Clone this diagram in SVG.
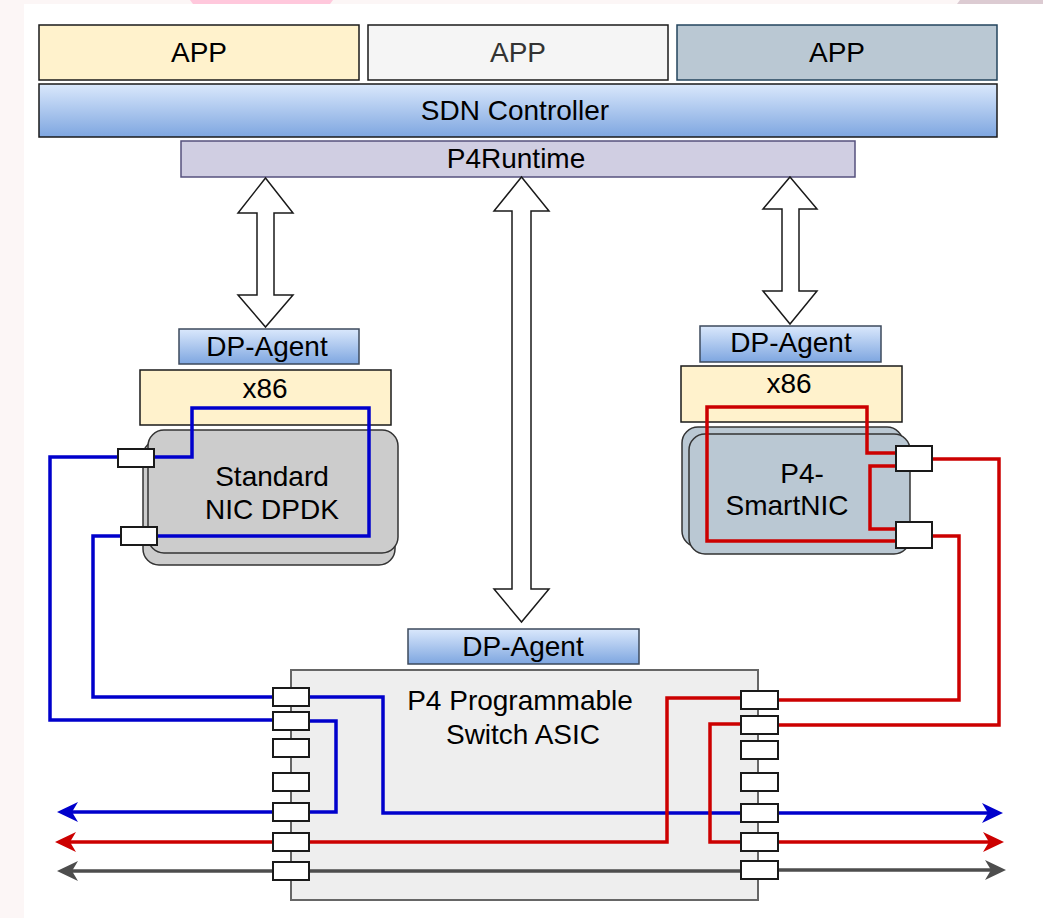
<svg xmlns="http://www.w3.org/2000/svg" width="1043" height="918" viewBox="0 0 1043 918">
  <defs>
    <linearGradient id="blueGrad" x1="0" y1="0" x2="0" y2="1">
      <stop offset="0" stop-color="#dae8fc"/>
      <stop offset="1" stop-color="#7ea6e0"/>
    </linearGradient>
    <marker id="headBlue" markerUnits="userSpaceOnUse" markerWidth="24" markerHeight="24" viewBox="-8 -12 24 24" refX="0" refY="0" orient="auto" overflow="visible">
      <path d="M15,0 L-6,-10 L0,0 L-6,10 Z" fill="#0000cc"/>
    </marker>
    <marker id="headRed" markerUnits="userSpaceOnUse" markerWidth="24" markerHeight="24" viewBox="-8 -12 24 24" refX="0" refY="0" orient="auto" overflow="visible">
      <path d="M15,0 L-6,-10 L0,0 L-6,10 Z" fill="#cc0000"/>
    </marker>
    <marker id="headGrey" markerUnits="userSpaceOnUse" markerWidth="24" markerHeight="24" viewBox="-8 -12 24 24" refX="0" refY="0" orient="auto" overflow="visible">
      <path d="M15,0 L-6,-10 L0,0 L-6,10 Z" fill="#4d4d4d"/>
    </marker>
  </defs>
  <style>
    text { font-family: "Liberation Sans", Arial, sans-serif; font-size: 28px; fill: #000; text-anchor: middle; }
    .box { stroke-width: 1.5; }
    .yellow { fill: #fff2cc; stroke: #1a1a1a; }
    .light { fill: #f5f5f5; stroke: #1a1a1a; }
    .slate { fill: #bac8d3; stroke: #23445d; }
    .grad { fill: url(#blueGrad); stroke: #1a1a1a; }
    .agent { fill: url(#blueGrad); stroke: #3d4a5c; }
    .runtime { fill: #d0cee2; stroke: #56517e; }
    .nicgrey { fill: #cccccc; stroke: #333333; stroke-width: 1.5; }
    .nicslate { fill: #bac8d3; stroke: #333333; stroke-width: 1.5; }
    .asic { fill: #eeeeee; stroke: #666666; stroke-width: 2; }
    .port { fill: #ffffff; stroke: #1a1a1a; stroke-width: 2; }
    .fat { fill: #ffffff; stroke: #1a1a1a; stroke-width: 1.5; stroke-linejoin: miter; }
    .wire { fill: none; stroke-width: 3.5; stroke-linejoin: miter; }
    .blue { stroke: #0000cc; }
    .red { stroke: #cc0000; }
    .grey { stroke: #4d4d4d; }
  </style>

  <!-- page background -->
  <rect x="0" y="0" width="1043" height="918" fill="#fcf6f6"/>
  <polygon points="190,0 333,0 330,4 193,4" fill="#ffc8dc"/>
  <polygon points="960,0 1043,0 1043,4 957,4" fill="#dccbd2"/>
  <rect x="24" y="4" width="1019" height="914" fill="#ffffff"/>

  <!-- application layer -->
  <g id="app-1">
    <rect class="box yellow" x="39" y="25" width="320" height="55"/>
    <text x="199" y="62">APP</text>
  </g>
  <g id="app-2">
    <rect class="box light" x="368" y="25" width="300" height="55"/>
    <text x="518" y="62" style="fill:#333333">APP</text>
  </g>
  <g id="app-3">
    <rect class="box slate" x="677" y="25" width="320" height="55"/>
    <text x="837" y="62">APP</text>
  </g>
  <g id="sdn-controller">
    <rect class="box grad" x="39" y="84" width="958" height="53"/>
    <text x="515" y="120">SDN Controller</text>
  </g>
  <g id="p4runtime">
    <rect class="box runtime" x="181" y="141" width="674" height="36"/>
    <text x="516" y="168">P4Runtime</text>
  </g>

  <!-- left host: x86 with standard NIC -->
  <g id="dp-agent-left">
    <rect class="box agent" x="179" y="329" width="180" height="35"/>
    <text x="267" y="356">DP-Agent</text>
  </g>
  <g id="x86-left">
    <rect class="box yellow" x="140" y="370" width="251" height="55"/>
    <text x="265" y="398">x86</text>
  </g>
  <g id="nic-dpdk">
    <rect class="nicgrey" x="143" y="440" width="252" height="125" rx="16"/>
    <rect class="nicgrey" x="148" y="430" width="250" height="123" rx="16"/>
    <text x="272" y="486">Standard</text>
    <text x="272" y="519">NIC DPDK</text>
  </g>

  <!-- right host: x86 with P4 SmartNIC -->
  <g id="dp-agent-right">
    <rect class="box agent" x="700" y="326" width="181" height="36"/>
    <text x="791" y="352">DP-Agent</text>
  </g>
  <g id="x86-right">
    <rect class="box yellow" x="681" y="366" width="221" height="56"/>
    <text x="789" y="393">x86</text>
  </g>
  <g id="p4-smartnic">
    <rect class="nicslate" x="682" y="427" width="221" height="120" rx="16"/>
    <rect class="nicslate" x="689" y="434" width="221" height="120" rx="16"/>
    <text x="802" y="483">P4-</text>
    <text x="787" y="515">SmartNIC</text>
  </g>

  <!-- switch -->
  <g id="dp-agent-switch">
    <rect class="box agent" x="408" y="629" width="231" height="35"/>
    <text x="523" y="656">DP-Agent</text>
  </g>
  <g id="switch-asic">
    <rect class="asic" x="291" y="670" width="467" height="230"/>
    <text x="520" y="710">P4 Programmable</text>
    <text x="523" y="744">Switch ASIC</text>
  </g>

  <!-- control channels and data-plane wiring -->
  <g id="connectors">
    <polygon class="fat" points="265.5,178 293,213 274,213 274,295 293,295 265.5,327 238,295 257,295 257,213 238,213"/>
    <polygon class="fat" points="521.5,177 549,211 531,211 531,589 549,589 521.5,622 494,589 512,589 512,211 494,211"/>
    <polygon class="fat" points="790,177 817,209 799,209 799,291 817,291 790,324 763,291 782,291 782,209 763,209"/>

    <!-- standard NIC loop through x86 -->
    <path class="wire blue" d="M154,457 H192 V408 H369 V536 H157"/>
    <path class="wire blue" d="M118,457 H50 V720 H273"/>
    <path class="wire blue" d="M121,536 H93 V697 H273"/>
    <path class="wire blue" d="M309,697 H383 V813 H778"/>
    <path class="wire blue" d="M309,721 H336 V812 H309"/>
    <path class="wire blue" d="M778,813 H988" marker-end="url(#headBlue)"/>
    <path class="wire blue" d="M273,812 H72" marker-end="url(#headBlue)"/>

    <!-- SmartNIC loops through x86 -->
    <path class="wire red" d="M896,453 H867 V407 H707 V541 H896"/>
    <path class="wire red" d="M896,466 H870 V529 H896"/>
    <path class="wire red" d="M932,459 H999 V725 H778"/>
    <path class="wire red" d="M932,536 H959 V700 H778"/>
    <path class="wire red" d="M309,842 H667 V698 H741"/>
    <path class="wire red" d="M741,724 H710 V842 H741"/>
    <path class="wire red" d="M778,842 H989" marker-end="url(#headRed)"/>
    <path class="wire red" d="M273,842 H70" marker-end="url(#headRed)"/>

    <!-- pass-through link -->
    <path class="wire grey" d="M309,871 H741"/>
    <path class="wire grey" d="M778,870 H991" marker-end="url(#headGrey)"/>
    <path class="wire grey" d="M273,871 H72" marker-end="url(#headGrey)"/>
  </g>

  <!-- NIC ports -->
  <g id="nic-ports">
    <rect class="port" x="118" y="449" width="36" height="18"/>
    <rect class="port" x="121" y="527" width="36" height="18"/>
    <rect class="port" x="896" y="446" width="36" height="25"/>
    <rect class="port" x="896" y="522" width="36" height="26"/>
  </g>

  <!-- switch ports -->
  <g id="switch-ports-left">
    <rect class="port" x="273" y="688" width="36" height="18"/>
    <rect class="port" x="273" y="712" width="36" height="18"/>
    <rect class="port" x="273" y="739" width="36" height="18"/>
    <rect class="port" x="273" y="773" width="36" height="18"/>
    <rect class="port" x="273" y="803" width="36" height="18"/>
    <rect class="port" x="273" y="833" width="36" height="18"/>
    <rect class="port" x="273" y="862" width="36" height="18"/>
  </g>
  <g id="switch-ports-right">
    <rect class="port" x="741" y="691" width="37" height="18"/>
    <rect class="port" x="741" y="716" width="37" height="18"/>
    <rect class="port" x="741" y="741" width="37" height="18"/>
    <rect class="port" x="741" y="773" width="37" height="18"/>
    <rect class="port" x="741" y="804" width="37" height="18"/>
    <rect class="port" x="741" y="833" width="37" height="18"/>
    <rect class="port" x="741" y="861" width="37" height="18"/>
  </g>
</svg>
